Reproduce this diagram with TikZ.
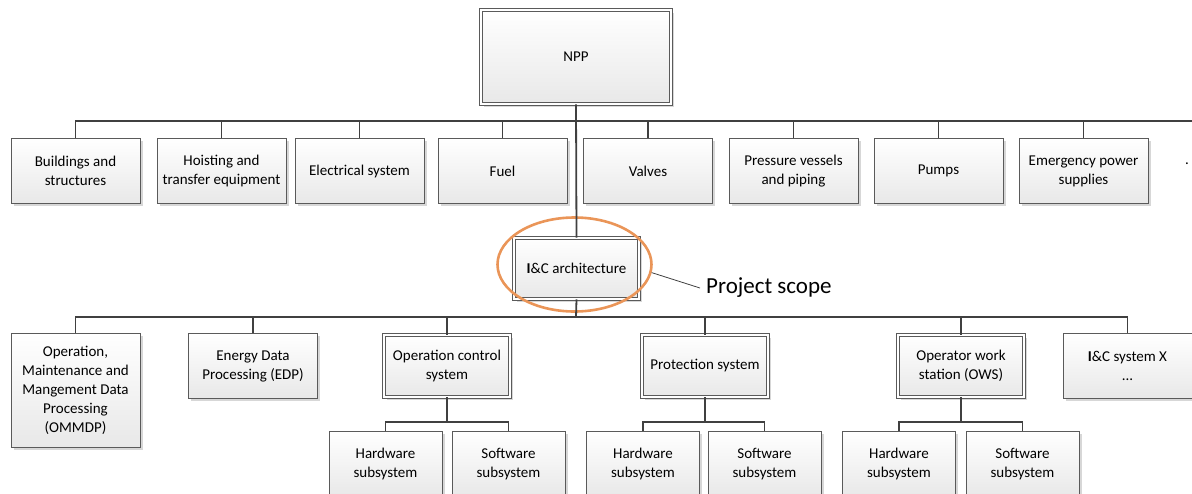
\documentclass[tikz,border=0pt]{standalone}
\usepackage{fontspec}
\setmainfont{Carlito}
\usetikzlibrary{shadows,shapes.geometric}
\definecolor{boxline}{HTML}{5A5A5A}
\definecolor{wire}{HTML}{404040}
\definecolor{ringorange}{HTML}{EA9558}
\begin{document}
\begin{tikzpicture}[x=1pt,y=-1pt,
  box/.style={rectangle, draw=boxline, line width=0.8pt,
    top color=white, bottom color=black!9,
    minimum width=129pt, minimum height=65pt, inner sep=1pt,
    align=center, font=\fontsize{15}{19}\selectfont,
    drop shadow={shadow xshift=2.5pt, shadow yshift=-2.5pt, fill=black!35, opacity=0.45}},
  dbox/.style={box, double=white, double distance=2.2pt, line width=0.7pt},
  conn/.style={draw=wire, line width=1.8pt},
  sub/.style={box, minimum width=113pt}]
\useasboundingbox (0,0) rectangle (1192,493);
\clip (0,0) rectangle (1192,493);

% top level
\node[dbox, minimum width=190pt, minimum height=94pt] (npp) at (576,57) {NPP};

% plant systems
\node[box] (bld) at (75.5,171)  {Buildings and\\structures};
\node[box] (hst) at (221.5,171) {Hoisting and\\transfer equipment};
\node[box] (ele) at (359.5,171) {Electrical system};
\node[box] (fue) at (502.5,171) {Fuel};
\node[box] (val) at (648,171)   {Valves};
\node[box] (prv) at (793.5,171) {Pressure vessels\\and piping};
\node[box] (pmp) at (938.5,171) {Pumps};
\node[box] (emg) at (1083.5,171){Emergency power\\supplies};
\node[anchor=base, inner sep=0pt, font=\fontsize{15}{19}\selectfont] (more) at (1187,164) {.};
\coordinate (busend) at (1192,121);

% I&C architecture
\node[dbox, minimum width=125pt, minimum height=61pt] (ica) at (576.5,268.5) {\textbf{I}\&C architecture};
\node[ellipse, draw=ringorange, line width=2.6pt, minimum width=154pt, minimum height=94pt] (ring) at (574.5,264.5) {};
\node[anchor=west, inner sep=0pt, font=\fontsize{23}{27}\selectfont] (scope) at (706,288) {Project scope};
\draw[wire, line width=0.8pt] (ring.-6) -- ([xshift=-6pt]scope.west);

% I&C systems
\node[box, minimum height=114pt] (omm) at (75.5,390) {Operation,\\Maintenance and\\Mangement Data\\Processing\\(OMMDP)};
\node[box] (edp) at (253,366) {Energy Data\\Processing (EDP)};
\node[dbox, minimum width=126pt, minimum height=62pt] (ocs) at (447,366) {Operation control\\system};
\node[dbox, minimum width=126pt, minimum height=62pt] (pro) at (705,366) {Protection system};
\node[dbox, minimum width=126pt, minimum height=62pt] (ows) at (961,366) {Operator work\\station (OWS)};
\node[box] (icx) at (1127.5,366) {\textbf{I}\&C system X\\...};
\coordinate (bus2) at (576,317);

% subsystems
\node[sub] (ocshw) at (385.5,464) {Hardware\\subsystem};
\node[sub] (ocssw) at (508.5,464) {Software\\subsystem};
\node[sub] (prohw) at (643,464)   {Hardware\\subsystem};
\node[sub] (prosw) at (764.5,464) {Software\\subsystem};
\node[sub] (owshw) at (899,464)   {Hardware\\subsystem};
\node[sub] (owssw) at (1022.5,464){Software\\subsystem};
\coordinate (subbus) at (0,422);

% tree connectors
\draw[conn] (npp.south) -- (ica.north);
\draw[conn] (bld.north) |- (busend);
\foreach \n in {hst,ele,fue,val,prv,pmp,emg}
  \draw[conn] (\n.north) -- (\n.north |- busend);

\draw[conn] (ica.south) -- (bus2);
\draw[conn] (omm.north) |- (bus2);
\draw[conn] (icx.north) |- (bus2);
\foreach \n in {edp,ocs,pro,ows}
  \draw[conn] (\n.north) -- (\n.north |- bus2);

\foreach \p/\h/\s in {ocs/ocshw/ocssw, pro/prohw/prosw, ows/owshw/owssw}{
  \draw[conn] (\p.south) -- (\p.south |- subbus);
  \draw[conn] (\h.north) |- (\s.north |- subbus) -- (\s.north);
}
\end{tikzpicture}
\end{document}
